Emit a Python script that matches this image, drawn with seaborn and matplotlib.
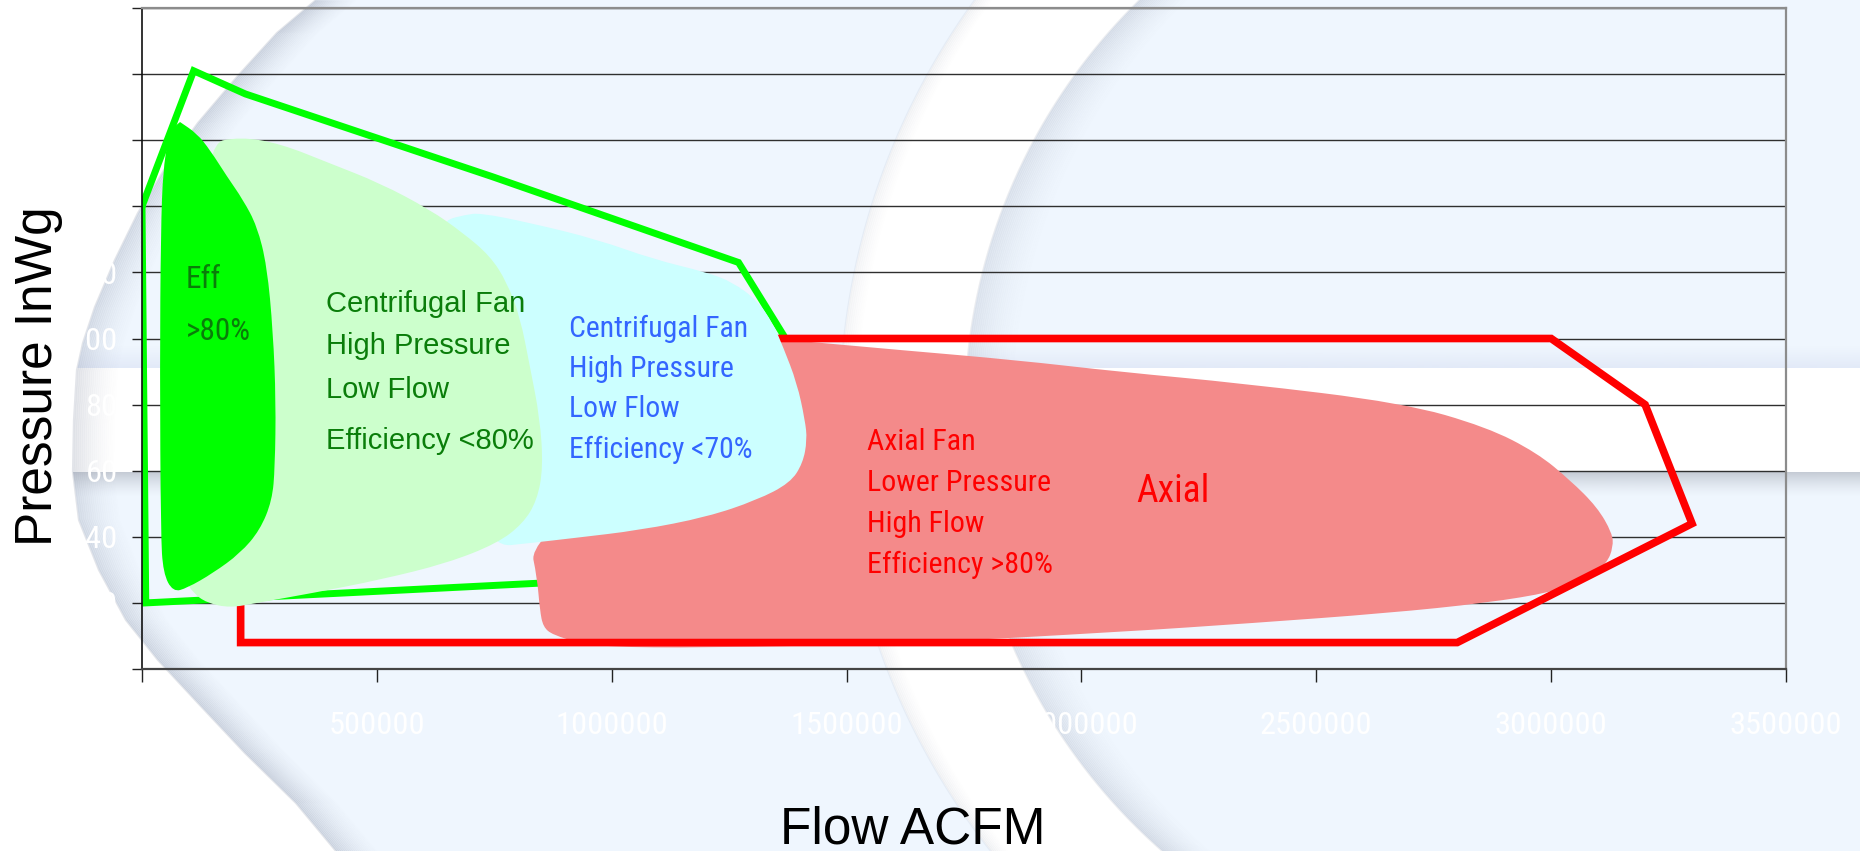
import numpy as np
import pandas as pd
import matplotlib
matplotlib.use("Agg")
import matplotlib.pyplot as plt
from matplotlib import font_manager
from matplotlib.font_manager import FontProperties
from matplotlib.patches import Polygon, Rectangle, PathPatch
from matplotlib.path import Path
import seaborn as sns

# ---------------------------------------------------------------
# Fan selection map: flow (ACFM) versus pressure (in. w.g.)
# ---------------------------------------------------------------
x_ticks = [0, 500000, 1000000, 1500000, 2000000, 2500000, 3000000, 3500000]
y_ticks = [0, 20, 40, 60, 80, 100, 120, 140, 160, 180, 200]

# outer envelope of the centrifugal range
centrifugal_env_flow = [0, 110000, 220000, 745000, 1270000, 1370000, 1150000, 850000, 430000, 8000, 0]
centrifugal_env_press = [140, 181, 174, 149, 123, 100, 30, 26, 23, 20, 140]

# outer envelope of the axial range
axial_env_flow = [210000, 210000, 2800000, 3300000, 3200000, 3000000, 1360000, 210000]
axial_env_press = [100, 8, 8, 44, 80, 100, 100, 100]

# high-efficiency centrifugal zone (Eff >80%)
high_eff_flow = [81000, 117000, 145000, 181000, 215000, 245000, 266000, 279000, 285000, 283000,
                 277000, 251000, 209000, 151000, 96000, 66000, 45000, 40000, 38000, 40000,
                 45000, 60000]
high_eff_press = [165.5, 162, 157, 149, 142, 134, 122, 102, 81, 61,
                  51, 42, 35, 29, 24.5, 23.3, 29, 41, 91, 132,
                  152, 163]

# centrifugal fan, efficiency <80%
cent80_flow = [138000, 209000, 294000, 400000, 507000, 613000, 683000, 741000, 777000, 805000,
               826000, 847000, 854000, 841000, 811000, 756000, 649000, 507000, 364000, 245000,
               187000, 138000, 109000, 91500, 123500]
cent80_press = [159, 161, 159, 153, 147, 139, 132, 125, 117, 106.5,
                91.4, 76, 61, 51, 44, 38, 32, 27, 23, 20,
                18.5, 20, 23, 27, 112]

# centrifugal fan, efficiency <70%
cent70_flow = [649000, 688000, 720000, 826000, 969000, 1088000, 1203000, 1258000, 1309000, 1343000,
               1365000, 1394500, 1411500, 1416000, 1407000, 1380000, 1309000, 1203000, 1060000, 918000,
               826000, 745000, 698000, 677000, 649000]
cent70_press = [136, 137.4, 138, 135, 130, 124, 120, 117, 111.6, 104.7,
                97.4, 86.5, 75.3, 69.3, 62.3, 56.3, 51.1, 46, 42, 39.6,
                38.1, 36.9, 57.2, 111.6, 134.3]

# axial fan zone
axial_flow = [1358000, 1614000, 1859000, 2082000, 2338000, 2685000, 2863000, 2970000, 3040000, 3098000,
              3130000, 3132000, 3119000, 3076000, 3004000, 2863000, 2651000, 2365000, 2082000, 1614000,
              1188000, 990000, 932500, 875000, 854000, 847000, 841000, 826000, 1092000]
axial_press = [99.8, 96.5, 93.5, 89.9, 86.5, 80.5, 73.2, 65.4, 57.2, 49,
               41.1, 36.9, 32.1, 26.9, 23.3, 20, 16.9, 13.9, 11.2, 7.6,
               6.4, 6.7, 7.9, 10.3, 12.7, 17.9, 27.8, 38.1, 69]

eff_lines = ["Eff", ">80%"]
cent80_lines = ["Centrifugal Fan", "High Pressure", "Low Flow", "Efficiency <80%"]
cent70_lines = ["Centrifugal Fan", "High Pressure", "Low Flow", "Efficiency <70%"]
axial_lines = ["Axial Fan", "Lower Pressure", "High Flow", "Efficiency >80%"]
axial_tag = "Axial"

# ---------------------------------------------------------------
W, H = 1860, 851
BG_BLUE = "#EFF6FE"

sns.set_theme(style="white")
names = {f.name for f in font_manager.fontManager.ttflist}
REG = "Liberation Sans" if "Liberation Sans" in names else "DejaVu Sans"
plt.rcParams["font.family"] = [REG, "DejaVu Sans"]


def narrow_font():
    """A narrow sans face for the zone labels, falling back to the regular one."""
    for fam in ("Liberation Sans Narrow", "Arial Narrow", "Roboto Condensed",
                "Noto Sans Condensed", "Open Sans Condensed"):
        if fam in names:
            return {"family": fam}
    cands = []
    for f in font_manager.fontManager.ttflist:
        if str(f.stretch) in ("condensed", "semi-condensed") and f.style == "normal" \
                and f.weight in (400, "normal", "regular", "book") \
                and "Mono" not in f.name and "Serif" not in f.name and "CJK" not in f.name:
            rank = {"Roboto": 0, "Noto Sans": 1, "Open Sans": 2, "DejaVu Sans": 3}.get(f.name, 4)
            cands.append((rank, f.fname))
    if cands:
        return {"fontproperties": FontProperties(fname=sorted(cands)[0][1])}
    return {"family": REG}


NARROW = narrow_font()

fig = plt.figure(figsize=(W / 100, H / 100), dpi=100, facecolor=BG_BLUE)


def slide_background(fig):
    """Slide template: pale blue field with white swooshes and soft shadows (pixel units)."""
    bg = fig.add_axes([0, 0, 1, 1], zorder=-10)
    bg.set_xlim(0, W)
    bg.set_ylim(H, 0)
    bg.axis("off")

    # horizontal white band
    bg.add_patch(Rectangle((0, 368), W, 104, color="white", lw=0))
    glow = np.zeros((30, 1, 4))
    glow[..., :3] = np.array([214, 222, 242]) / 255
    glow[:, 0, 3] = np.linspace(0, 0.5, 30)
    bg.imshow(glow, extent=(0, W, 368, 346), aspect="auto", interpolation="bilinear", zorder=1)

    # wide ring swoosh
    cx, cy, ro, ri = 1545, 415, 705, 580
    ys = np.linspace(-5, H + 5, 300)
    xo = cx - np.sqrt(ro ** 2 - (ys - cy) ** 2)
    xi = cx - np.sqrt(ri ** 2 - (ys - cy) ** 2)
    ring = np.vstack([np.column_stack([xo, ys]), np.column_stack([xi[::-1], ys[::-1]])])
    bg.add_patch(Polygon(ring, closed=True, color="white", lw=0, zorder=2))

    # shadow under the band
    shade = np.zeros((26, 1, 4))
    shade[..., :3] = np.array([150, 155, 166]) / 255
    shade[:, 0, 3] = np.linspace(0.6, 0, 26) ** 1.5
    bg.imshow(shade, extent=(0, W, 498, 472), aspect="auto", interpolation="bilinear", zorder=3)

    # white area on the far left
    edge = np.array([(316, 0), (277, 33), (237, 77), (198, 123), (166, 167), (138, 213),
                     (115, 260), (95, 307), (83, 343), (77, 370), (74, 420), (73, 472),
                     (79, 520), (99, 570), (126, 620), (158, 660), (198, 703), (245, 753),
                     (296, 803), (336, 851), (340, 858)], dtype=float)
    left = np.vstack([[(-5, -5), (322, -5)], edge, [(-5, 858)]])
    bg.add_patch(Polygon(left, closed=True, color="white", lw=0, zorder=4))

    # soft shadows along the curved edges
    grey = (0.55, 0.58, 0.66)
    for k in range(0, 44, 2):
        a = 0.24 * (1 - k / 44) ** 1.6
        bg.plot(edge[:, 0] + k, edge[:, 1], color=grey, alpha=a, lw=1.6, zorder=5,
                solid_capstyle="butt")
    for k in range(0, 50, 2):
        a = 0.17 * (1 - k / 50) ** 1.6
        bg.plot(xi + k, ys, color=grey, alpha=a, lw=1.6, zorder=5, solid_capstyle="butt")
    for k in range(0, 18, 2):
        a = 0.10 * (1 - k / 18) ** 1.5
        bg.plot(xo + k, ys, color=grey, alpha=a, lw=1.6, zorder=5, solid_capstyle="butt")


def smooth_zone(ax, xs, ys, sharp=(), **kw):
    """Closed zone outline rendered as quadratic Bezier segments through the outline points."""
    P = np.column_stack([xs, ys]).astype(float)
    M = (P + np.roll(P, -1, axis=0)) / 2
    verts, codes = [M[-1]], [Path.MOVETO]
    for i in range(len(P)):
        verts += [P[i], M[i]]
        codes += [Path.LINETO, Path.LINETO] if i in sharp else [Path.CURVE3, Path.CURVE3]
    verts.append(M[-1])
    codes.append(Path.CLOSEPOLY)
    ax.add_patch(PathPatch(Path(verts, codes), lw=0, **kw))


slide_background(fig)

# ---------------------------------------------------------------
ax = fig.add_axes([142 / W, 1 - 669 / H, 1644 / W, 661 / H], zorder=1)
ax.set_facecolor("none")

# envelopes (drawn with seaborn)
env_c = pd.DataFrame({"flow": centrifugal_env_flow, "pressure": centrifugal_env_press})
env_a = pd.DataFrame({"flow": axial_env_flow, "pressure": axial_env_press})
sns.lineplot(data=env_c, x="flow", y="pressure", sort=False, estimator=None, ax=ax,
             color="#00FF00", lw=5.0, zorder=2)

# operating zones
smooth_zone(ax, axial_flow, axial_press, sharp=(0,), color="#F48A8A", zorder=3)
sns.lineplot(data=env_a, x="flow", y="pressure", sort=False, estimator=None, ax=ax,
             color="#FF0000", lw=5.5, zorder=4)
smooth_zone(ax, cent70_flow, cent70_press, color="#CCFFFF", zorder=5)
smooth_zone(ax, cent80_flow, cent80_press, color="#CCFFCC", zorder=6)
smooth_zone(ax, high_eff_flow, high_eff_press, sharp=(0,), color="#00FF00", zorder=7)

for line in ax.get_lines():
    line.set_solid_joinstyle("miter")

ax.set_xlim(0, 3500000)
ax.set_ylim(0, 200)

# zone annotations
DKGREEN, BLUE, RED = "#0A7D0A", "#3366FF", "#FF0000"


def label(x, y, s, color, size, font):
    kw = dict(font)
    if "fontproperties" in kw:
        kw["fontproperties"] = kw["fontproperties"].copy()
        kw["fontproperties"].set_size(size)
        t = ax.text(x, y, s, color=color, va="baseline", zorder=9, **kw)
    else:
        t = ax.text(x, y, s, color=color, fontsize=size, va="baseline", zorder=9, **kw)
    return t


for s, y in zip(eff_lines, [115.3, 99.5]):
    label(93700, y, s, DKGREEN, 22.5, NARROW)
for s, y in zip(cent80_lines, [108.0, 95.3, 82.0, 66.6]):
    label(391700, y, s, DKGREEN, 21.0, {"family": REG})
for s, y in zip(cent70_lines, [100.5, 88.4, 76.2, 63.8]):
    label(909000, y, s, BLUE, 21.4, NARROW)
for s, y in zip(axial_lines, [66.3, 53.9, 41.5, 29.0]):
    label(1543500, y, s, RED, 21.6, NARROW)
label(2116000, 50.5, axial_tag, RED, 27.0, NARROW)

# axes, grid and ticks
ax.set_xticks(x_ticks)
ax.set_xticklabels([str(v) for v in x_ticks])
ax.set_yticks(y_ticks)
ax.set_yticklabels([str(v) for v in y_ticks])
for lbl in ax.get_xticklabels() + ax.get_yticklabels():
    if "fontproperties" in NARROW:
        fp = NARROW["fontproperties"].copy()
        fp.set_size(23.4)
        lbl.set_fontproperties(fp)
    else:
        lbl.set_fontfamily(NARROW["family"])
        lbl.set_fontsize(23.4)
ax.tick_params(axis="x", bottom=True, direction="out", length=9, width=1.0, color="#222222",
               labelcolor="white", pad=21)
ax.tick_params(axis="y", left=True, direction="out", length=7.5, width=1.0, color="#222222",
               labelcolor="white", pad=10)
ax.set_axisbelow(True)
ax.yaxis.grid(True, color="#2f2f2f", lw=1.0)
ax.xaxis.grid(False)
ax.spines["left"].set_color("#111111")
ax.spines["left"].set_linewidth(1.2)
ax.spines["bottom"].set_color("#444444")
ax.spines["bottom"].set_linewidth(1.6)
for side in ("top", "right"):
    ax.spines[side].set_color("#8c8c8c")
    ax.spines[side].set_linewidth(1.6)
    ax.spines[side].set_visible(True)

ax.set_xlabel("Flow ACFM", fontsize=37.0, family=REG, color="black")
ax.xaxis.set_label_coords(0.469, -0.2635)
ax.xaxis.label.set_va("baseline")
ax.set_ylabel("Pressure InWg", fontsize=37.0, family=REG, color="black")
ax.yaxis.set_label_coords(-0.0627, 0.443)
ax.yaxis.label.set_va("center")

fig.savefig("out.png", dpi=100, facecolor=BG_BLUE)
